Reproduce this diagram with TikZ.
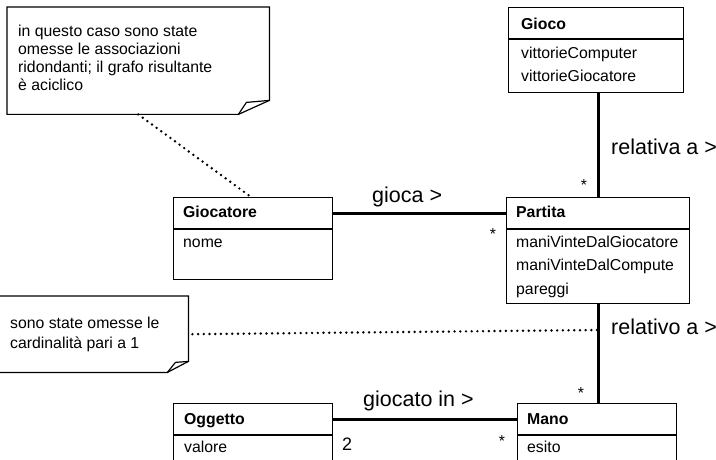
\documentclass[tikz,border=0pt]{standalone}
\usepackage{fontspec}
\setmainfont{Liberation Sans}
\newcommand\fsz[1]{\fontsize{#1}{#1}\selectfont}
\begin{document}
\begin{tikzpicture}[x=1pt,y=-1pt,
  box/.style={draw, line width=1pt, inner sep=0pt, anchor=north west},
  ttl/.style={font=\fsz{15.8}\bfseries, anchor=base west, inner sep=0pt},
  attr/.style={font=\fsz{15.8}, anchor=base west, inner sep=0pt},
  lbl/.style={font=\fsz{21.5}, anchor=base west, inner sep=0pt},
  mult/.style={font=\fsz{15.8}, anchor=base, inner sep=0pt},
  notetxt/.style={font=\fsz{15.8}, anchor=base west, inner sep=0pt},
  assoc/.style={line width=3pt},
  notelink/.style={line width=2.7pt, line cap=round, dash pattern=on 0pt off 5.7pt},
  noteedge/.style={line width=1.2pt, line join=miter},
  notearea/.style={inner sep=0pt, anchor=north west},
]
\clip (0,0) rectangle (716,460);
\fill[white] (0,0) rectangle (716,460);

% ---------- classes ----------
% Gioco
\node[box, minimum width=175pt, minimum height=31pt] (giocoH) at (508,7) {};
\node[box, minimum width=175pt, minimum height=53pt] (giocoB) at (giocoH.south west) {};
\node[ttl]  (giocoT)  at (521,30) {Gioco};
\node[attr] (giocoA1) at (521,59) {vittorieComputer};
\node[attr] (giocoA2) at (521,82) {vittorieGiocatore};

% Giocatore
\node[box, minimum width=159pt, minimum height=31pt] (giocatoreH) at (173,197) {};
\node[box, minimum width=159pt, minimum height=50pt] (giocatoreB) at (giocatoreH.south west) {};
\node[ttl]  (giocatoreT)  at (183,217.5) {Giocatore};
\node[attr] (giocatoreA1) at (183,247) {nome};

% Partita
\node[box, minimum width=183pt, minimum height=31pt] (partitaH) at (506,197) {};
\node[box, minimum width=183pt, minimum height=74pt] (partitaB) at (partitaH.south west) {};
\node[ttl]  (partitaT)  at (516,218) {Partita};
\node[attr] (partitaA1) at (516,247) {maniVinteDalGiocatore};
\node[attr] (partitaA2) at (516,270.5) {maniVinteDalCompute};
\node[attr] (partitaA3) at (516,294) {pareggi};

% Oggetto
\node[box, minimum width=159pt, minimum height=31pt] (oggettoH) at (173,403) {};
\node[box, minimum width=159pt, minimum height=50pt] (oggettoB) at (oggettoH.south west) {};
\node[ttl]  (oggettoT)  at (184,424) {Oggetto};
\node[attr] (oggettoA1) at (184,452) {valore};

% Mano
\node[box, minimum width=159pt, minimum height=31pt] (manoH) at (517,403) {};
\node[box, minimum width=159pt, minimum height=50pt] (manoB) at (manoH.south west) {};
\node[ttl]  (manoT)  at (527,424) {Mano};
\node[attr] (manoA1) at (527,452) {esito};

% ---------- associations ----------
\draw[assoc] (giocoB.south -| partitaH.north) -- (partitaH.north);
\draw[assoc] (giocatoreH.east) -- (partitaH.west);
\draw[assoc] (partitaB.south) -- (manoH.north -| partitaB.south);
\draw[assoc] (oggettoH.east) -- (manoH.west);

\node[lbl] (lblGioca)    at (372,203)   {gioca >};
\node[lbl] (lblRelativa) at (611,154)   {relativa a >};
\node[lbl] (lblRelativo) at (611,334)   {relativo a >};
\node[lbl] (lblGiocato)  at (363,406.5) {giocato in >};

\node[mult] (mGiocoPartita)  at (584,190) {*};
\node[mult] (mGiocaPartita)  at (493,240) {*};
\node[mult] (mPartitaMano)   at (581,398) {*};
\node[mult] (mGiocatoMano)   at (502,446) {*};
\node[font=\fsz{18}, anchor=base west, inner sep=0pt] (mGiocatoOggetto) at (342,450) {2};

% ---------- notes ----------
\node[notearea, minimum width=262pt, minimum height=107pt] (note1) at (7,7) {};
\draw[noteedge] (note1.north west) -- (note1.north east)
  -- ([yshift=14pt]note1.south east) -- ([xshift=-31pt]note1.south east)
  -- (note1.south west) -- cycle;
\draw[noteedge] ([xshift=-31pt]note1.south east) -- ([xshift=-23pt,yshift=12pt]note1.south east)
  -- ([yshift=14pt]note1.south east);
\node[notetxt] (note1l1) at (18,36.7) {in questo caso sono state};
\node[notetxt] (note1l2) at (18,55)   {omesse le associazioni};
\node[notetxt] (note1l3) at (18,73)   {ridondanti; il grafo risultante};
\node[notetxt] (note1l4) at (18,91)   {è aciclico};

\node[notearea, minimum width=189pt, minimum height=76pt] (note2) at (-1,296) {};
\draw[noteedge] (note2.north west) -- (note2.north east)
  -- ([yshift=11pt]note2.south east) -- ([xshift=-21pt]note2.south east)
  -- (note2.south west) -- cycle;
\draw[noteedge] ([xshift=-21pt]note2.south east) -- ([xshift=-13pt,yshift=10pt]note2.south east)
  -- ([yshift=11pt]note2.south east);
\node[notetxt] (note2l1) at (10,328) {sono state omesse le};
\node[notetxt] (note2l2) at (10,348) {cardinalità pari a 1};

% ---------- note links ----------
\coordinate (relDot) at ([yshift=-26pt]partitaB.south);
\draw[notelink] (note1.south) -- ([xshift=-2pt]giocatoreH.north);
\draw[notelink] ([xshift=4pt]note2.east) -- (relDot);
\end{tikzpicture}
\end{document}
